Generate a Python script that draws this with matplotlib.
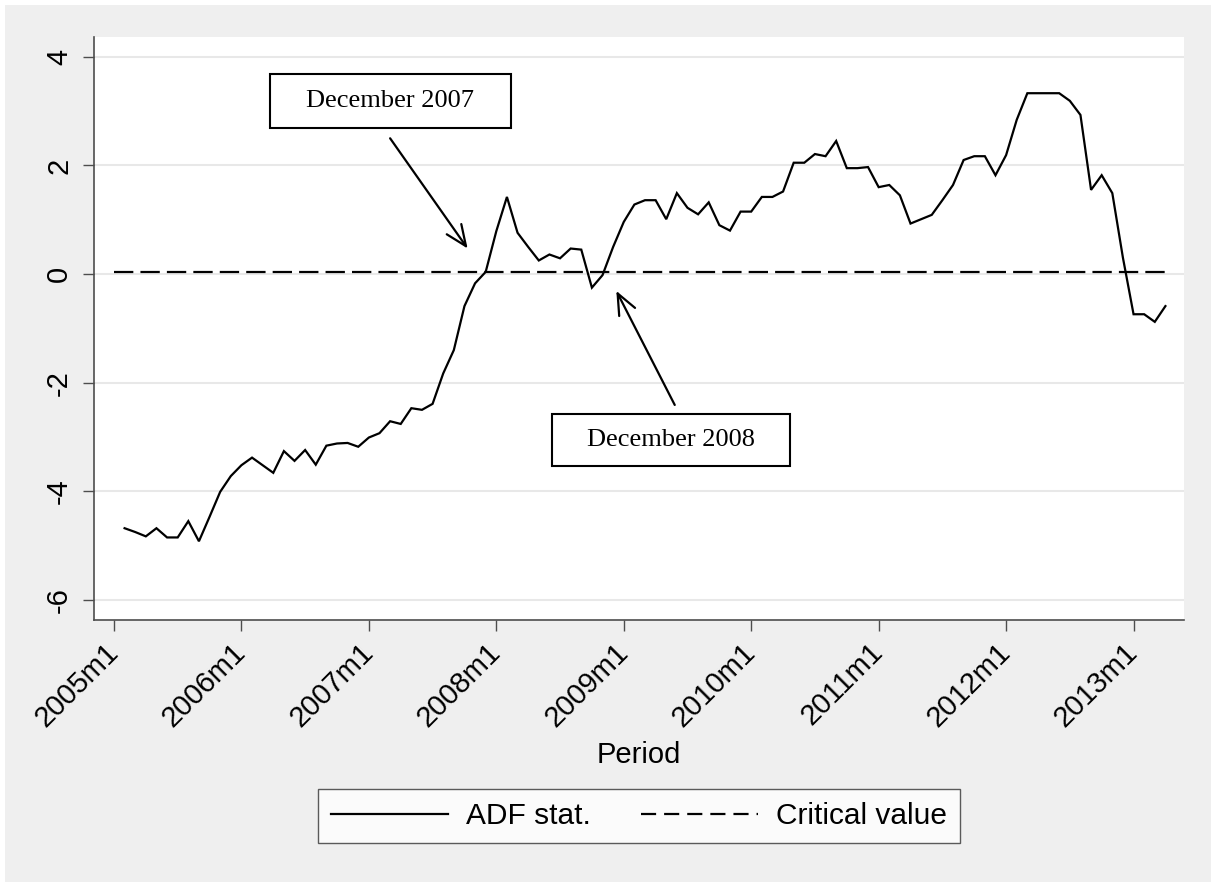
import matplotlib
matplotlib.use("Agg")
import matplotlib.pyplot as plt
from matplotlib.patches import Rectangle
from matplotlib.lines import Line2D

W, H = 1211, 882

# months counted from 2005m1 = 0
adf_months = list(range(1, 100))
adf_stat = [
    -4.68, -4.75, -4.83, -4.68, -4.85, -4.85, -4.55, -4.92, -4.47, -4.01,
    -3.72, -3.52, -3.38, -3.52, -3.66, -3.26, -3.44, -3.24, -3.51, -3.16,
    -3.12, -3.11, -3.18, -3.01, -2.93, -2.71, -2.76, -2.47, -2.50, -2.39,
    -1.83, -1.40, -0.59, -0.17, 0.04, 0.79, 1.42, 0.76, 0.50, 0.25,
    0.36, 0.29, 0.47, 0.45, -0.25, -0.02, 0.50, 0.96, 1.28, 1.36,
    1.36, 1.01, 1.49, 1.22, 1.10, 1.32, 0.90, 0.80, 1.15, 1.15,
    1.42, 1.42, 1.52, 2.05, 2.05, 2.21, 2.17, 2.45, 1.95, 1.95,
    1.97, 1.60, 1.64, 1.45, 0.93, 1.01, 1.09, 1.36, 1.64, 2.10,
    2.17, 2.17, 1.82, 2.19, 2.84, 3.33, 3.33, 3.33, 3.33, 3.19,
    2.93, 1.55, 1.82, 1.49, 0.30, -0.74, -0.74, -0.88, -0.59,
]
crit_months = list(range(0, 100))
crit_value = 0.03
crit = [crit_value for _ in crit_months]

xtick_pos = [0, 12, 24, 36, 48, 60, 72, 84, 96]
xtick_labels = ["2005m1", "2006m1", "2007m1", "2008m1", "2009m1",
                "2010m1", "2011m1", "2012m1", "2013m1"]
ytick_pos = [-6, -4, -2, 0, 2, 4]

sans = ["Liberation Sans", "DejaVu Sans"]
serif = ["Liberation Serif", "DejaVu Serif"]
plt.rcParams["font.family"] = sans

fig = plt.figure(figsize=(W / 100, H / 100), dpi=100)
fig.patch.set_facecolor("white")
fig.patches.append(Rectangle((5 / W, 0), 1 - 5 / W, 1 - 5 / H, transform=fig.transFigure,
                             facecolor="#efefef", edgecolor="none", zorder=-10))

ax = fig.add_axes([94 / W, 1 - 620 / H, (1184 - 94) / W, (620 - 37) / H])
ax.set_facecolor("white")

ax.plot(adf_months, adf_stat, color="black", lw=1.6, solid_joinstyle="miter", zorder=3)
ax.plot(crit_months, crit, color="black", lw=1.6, dashes=(8.7, 3.2), zorder=3)

ax.set_xlim(-1.88, 100.75)
ax.set_ylim(-6.37, 4.365)

ax.set_yticks(ytick_pos)
ax.set_yticklabels([str(v) for v in ytick_pos], rotation=90, va="center")
ax.set_xticks(xtick_pos)
ax.set_xticklabels(xtick_labels, rotation=45, ha="right", va="center",
                   rotation_mode="anchor")

ax.yaxis.grid(True, color="#e8e8e8", lw=1.5)
ax.set_axisbelow(True)
for s in ["top", "right"]:
    ax.spines[s].set_visible(False)
for s in ["left", "bottom"]:
    ax.spines[s].set_color("#4d4d4d")
    ax.spines[s].set_linewidth(1.2)
ax.tick_params(axis="both", length=8, width=1.0, color="#4d4d4d", labelsize=21)
ax.tick_params(axis="y", pad=7)
ax.tick_params(axis="x", pad=12)

# annotation boxes
ax.add_patch(Rectangle((14.69, 2.69), 22.69, 0.99, facecolor="white",
                       edgecolor="black", lw=1.5, zorder=5))
ax.text(26.03, 3.185, "December 2007", family=serif, fontsize=19,
        ha="center", va="center", zorder=6)
ax.add_patch(Rectangle((41.24, -3.54), 22.41, 0.96, facecolor="white",
                       edgecolor="black", lw=1.5, zorder=5))
ax.text(52.45, -3.06, "December 2008", family=serif, fontsize=19,
        ha="center", va="center", zorder=6)

arrow = dict(arrowstyle="->,head_length=0.75,head_width=0.32", lw=1.6,
             color="black", mutation_scale=20, shrinkA=0, shrinkB=0)
ax.annotate("", xy=(33.3, 0.47), xytext=(26.0, 2.50), arrowprops=arrow, zorder=6)
ax.annotate("", xy=(47.3, -0.31), xytext=(52.8, -2.41), arrowprops=arrow, zorder=6)

fig.text(639 / W, 1 - 755 / H, "Period", ha="center", va="center", fontsize=21)

handles = [Line2D([], [], color="black", lw=1.6),
           Line2D([], [], color="black", lw=1.6, dashes=(6.8, 3.6))]
leg = fig.legend(handles, ["ADF stat.", "Critical value"], loc="center",
                 bbox_to_anchor=(639 / W, 1 - 816 / H), bbox_transform=fig.transFigure,
                 ncol=2, fontsize=21.5, frameon=True, fancybox=False,
                 handlelength=3.9, handletextpad=0.6, columnspacing=1.7,
                 borderpad=0.45)
leg.get_frame().set_edgecolor("#333333")
leg.get_frame().set_linewidth(1.0)

fig.savefig("out.png", dpi=100, facecolor=fig.get_facecolor())
